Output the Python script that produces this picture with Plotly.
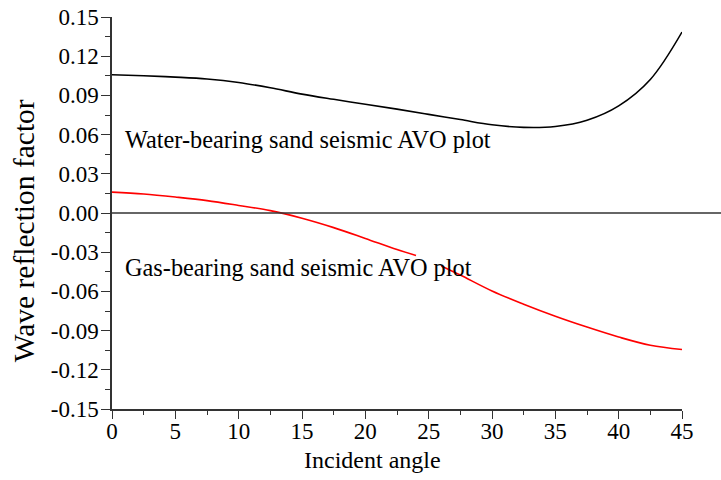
import plotly.graph_objects as go

# Data
angle_water = [0, 2.5, 5, 7.5, 10, 12.5, 15, 17.5, 20, 22.5, 25, 27.5, 30, 32.5, 35, 37.5, 40, 42.5, 45]
water_vals = [0.1058, 0.1050, 0.1040, 0.1026, 0.0999, 0.0958, 0.0910, 0.0870, 0.0832, 0.0795, 0.0755,
              0.0715, 0.0675, 0.0655, 0.0662, 0.0710, 0.0820, 0.1022, 0.1385]

angle_gas = [0, 2.5, 5, 7.5, 10, 12.5, 15, 17.5, 20, 22.5, 24, 25, 26, 27.5, 30, 32.5, 35, 37.5, 40, 42.5, 45]
gas_vals = [0.0160, 0.0145, 0.0122, 0.0095, 0.0058, 0.0018, -0.0040, -0.0112, -0.0195, -0.0280, -0.0325,
            None, -0.0405, -0.0475, -0.0597, -0.0698, -0.0790, -0.0873, -0.0949, -0.1012, -0.1045]

y_tickvals = [-0.15, -0.12, -0.09, -0.06, -0.03, 0.0, 0.03, 0.06, 0.09, 0.12, 0.15]
y_ticktext = ["-0.15", "-0.12", "-0.09", "-0.06", "-0.03", "0.00", "0.03", "0.06", "0.09", "0.12", "0.15"]
x_tickvals = [0, 5, 10, 15, 20, 25, 30, 35, 40, 45]

x_title = "Incident angle"
y_title = "Wave reflection factor"
water_label = "Water-bearing sand seismic AVO plot"
gas_label = "Gas-bearing sand seismic AVO plot"

FONT = "Liberation Serif"

W, H = 721, 480
L, T = 112, 17
PW, PH = 570, 392

fig = go.Figure()
fig.add_trace(go.Scatter(x=angle_water, y=water_vals, mode="lines",
                         line=dict(color="#000000", width=1.6, shape="spline"),
                         showlegend=False))
fig.add_trace(go.Scatter(x=angle_gas, y=gas_vals, mode="lines", connectgaps=False,
                         line=dict(color="#ff0000", width=1.6, shape="spline"),
                         showlegend=False))

# zero reference line extending to the right edge
fig.add_shape(type="line", xref="paper", yref="y", x0=0, x1=(W - L) / PW, y0=0, y1=0,
              line=dict(color="#333333", width=1.5), layer="above")

fig.add_annotation(x=0.9, y=0.0565, xref="x", yref="y", text=water_label, showarrow=False,
                   xanchor="left", yanchor="middle", font=dict(family=FONT, size=24.3, color="#000"))
fig.add_annotation(x=0.9, y=-0.0415, xref="x", yref="y", text=gas_label, showarrow=False,
                   xanchor="left", yanchor="middle", font=dict(family=FONT, size=24.3, color="#000"))

# axis titles (offset from center as in reference)
fig.add_annotation(x=260.5 / PW, y=-0.13, xref="paper", yref="paper", text=x_title,
                   showarrow=False, xanchor="center", yanchor="middle",
                   font=dict(family=FONT, size=24, color="#000"))
fig.add_annotation(x=-0.155, y=0.455, xref="paper", yref="paper", text=y_title,
                   showarrow=False, xanchor="center", yanchor="middle", textangle=-90,
                   font=dict(family=FONT, size=29.5, color="#000"))

fig.update_xaxes(range=[0, 45], tickvals=x_tickvals, ticks="outside", ticklen=8, tickwidth=1.3,
                 tickcolor="#333", showline=True, linecolor="#333", linewidth=1.5,
                 showgrid=False, zeroline=False, automargin=False, ticklabelstandoff=-7,
                 minor=dict(dtick=2.5, tick0=0, ticks="outside", ticklen=4.5, tickwidth=1.3,
                            tickcolor="#333", showgrid=False),
                 tickfont=dict(family=FONT, size=23, color="#000"))
fig.update_yaxes(range=[-0.15, 0.15], tickvals=y_tickvals, ticktext=y_ticktext, ticks="outside",
                 ticklen=9, tickwidth=1.3, tickcolor="#333", showline=True, linecolor="#333",
                 linewidth=1.5, showgrid=False, zeroline=False, automargin=False,
                 ticklabelstandoff=-2,
                 minor=dict(dtick=0.015, tick0=0, ticks="outside", ticklen=5, tickwidth=1.3,
                            tickcolor="#333", showgrid=False),
                 tickfont=dict(family=FONT, size=23, color="#000"))

fig.update_layout(width=W, height=H,
                  margin=dict(l=L, r=W - L - PW, t=T, b=H - T - PH, autoexpand=False),
                  paper_bgcolor="white", plot_bgcolor="white",
                  font=dict(family=FONT, color="#000"))

# remove the page's default body margin so the figure sits at the window corner
fig.write_html("out.html", config={"displayModeBar": False},
               post_script="document.body.style.margin='0';document.body.style.overflow='hidden';")
